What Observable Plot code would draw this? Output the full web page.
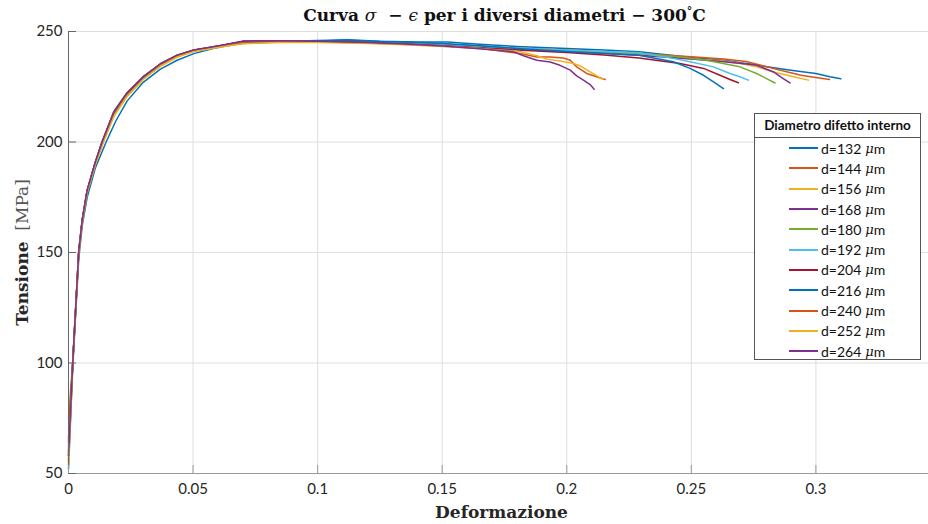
<!DOCTYPE html>
<html>
<head>
<meta charset="utf-8">
<script src="https://cdn.jsdelivr.net/npm/d3@7"></script>
<script src="https://cdn.jsdelivr.net/npm/@observablehq/plot@0.6"></script>
<style>
  body { margin: 0; background: #fff; }
  #chart { position: relative; width: 928px; height: 524px; }
  #legend {
    position: absolute; left: 754px; top: 113px; width: 167px; height: 247px;
    border: 1px solid #555; background: #fff; font-family: Lato, "Open Sans", sans-serif;
    color: #111; box-sizing: border-box;
  }
  #legend .head {
    height: 23px; line-height: 23px; text-align: center; font-weight: bold; font-size: 13.5px;
    border-bottom: 1px solid #555;
  }
  #legend .row { height: 20.3px; display: flex; align-items: center; font-size: 14px; padding-left: 34px; }
  #legend .row:first-of-type { margin-top: 1px; }
  #legend .sw { width: 29px; height: 2px; margin-right: 3px; }
  #legend .mu { font-family: "DejaVu Serif", serif; font-style: italic; font-size: 13px; margin-left: 4px; }
</style>
</head>
<body>
<div id="chart"></div>
<script>
// Diameters of the internal defect (µm) and the MATLAB line colours
const diameters = [132, 144, 156, 168, 180, 192, 204, 216, 240, 252, 264];
const colors = ["#0072BD", "#D95319", "#EDB120", "#7E2F8E", "#77AC30", "#4DBEEE",
                "#A2142F", "#0072BD", "#D95319", "#EDB120", "#7E2F8E"];

// Stress–strain curves at 300 °C: [strain, stress in MPa]
const d132 = [[0,52],[0.0017,98],[0.0041,147],[0.0055,162],[0.0075,175],[0.0107,188],[0.0151,200],[0.019,209.5],[0.0235,218.5],[0.03,227],[0.0369,233],[0.0436,237],[0.0503,240],[0.058,242.3],[0.066,244],[0.075,245.4],[0.088,245.8],[0.1,245.6],[0.112,246.3],[0.125,245.6],[0.14,245.2],[0.152,245.3],[0.165,244.2],[0.18,243.2],[0.2,242.3],[0.215,241.6],[0.229,240.8],[0.24,239.5],[0.25,238.2],[0.263,237],[0.276,234.8],[0.29,232.5],[0.3,231],[0.3056,229.5],[0.31,228.6]];
const d144 = [[0,56],[0.0017,100],[0.0041,150],[0.0055,164],[0.0075,177.5],[0.0107,190],[0.0137,200],[0.0182,212.5],[0.0235,221.5],[0.0302,229],[0.0369,234.7],[0.0436,238.8],[0.0503,241.3],[0.061,243.2],[0.07,244.8],[0.085,245.3],[0.1,245.6],[0.115,245.1],[0.13,244.8],[0.15,244.3],[0.165,243.4],[0.18,242.5],[0.2,241.6],[0.229,240],[0.25,238.6],[0.263,237.6],[0.272,236.4],[0.283,233.3],[0.294,230.2],[0.3,229.2],[0.3055,228.3]];
const d156 = [[0,55],[0.0017,99],[0.0041,149],[0.0055,163.5],[0.0075,177],[0.0107,189.5],[0.014,200],[0.0182,211.5],[0.0235,220.5],[0.0302,228.5],[0.0369,234.2],[0.0436,238.3],[0.0503,241],[0.061,243],[0.07,244.6],[0.085,245.2],[0.1,245.3],[0.115,245.4],[0.13,245],[0.15,244],[0.165,243.2],[0.18,242.3],[0.2,241.4],[0.229,239.6],[0.25,237.6],[0.262,236.8],[0.27,235.5],[0.277,233.8],[0.283,231.7],[0.291,229.5],[0.297,228]];
const d168 = [[0,60],[0.0017,100],[0.0041,150],[0.0055,164.6],[0.0075,178],[0.0107,190.5],[0.0135,200],[0.0182,213.5],[0.0235,222],[0.0302,229.5],[0.0369,235.2],[0.0436,239.2],[0.0503,241.5],[0.061,243.6],[0.0703,245.6],[0.085,245.8],[0.1,245.7],[0.12,245.1],[0.135,244.5],[0.15,243.7],[0.165,242.8],[0.18,241.9],[0.2,240.9],[0.229,239.3],[0.25,237.6],[0.263,236.3],[0.276,234.8],[0.283,231.7],[0.2869,228.7],[0.2896,226.7]];
const d180 = [[0,75],[0.0017,101],[0.0041,150.5],[0.0055,165],[0.0075,178.3],[0.0107,190.7],[0.0134,200],[0.0182,213.8],[0.0235,222.4],[0.0302,229.8],[0.0369,235.4],[0.0436,239.3],[0.0503,241.6],[0.061,243.7],[0.07,245.3],[0.085,245.6],[0.1,245.8],[0.115,245.3],[0.13,244.9],[0.15,244.2],[0.165,243.4],[0.18,242.4],[0.2,241.5],[0.229,240],[0.245,238.6],[0.256,237],[0.2695,234],[0.2762,231],[0.2802,228.7],[0.2836,226.7]];
const d192 = [[0,62],[0.0017,100],[0.0041,150],[0.0055,164.5],[0.0075,178],[0.0107,190.3],[0.0136,200],[0.0182,213.2],[0.0235,221.8],[0.0302,229.3],[0.0369,235],[0.0436,239],[0.0503,241.4],[0.061,243.5],[0.07,245.2],[0.085,245.6],[0.1,245.5],[0.115,245.2],[0.13,244.7],[0.15,244],[0.165,243.3],[0.18,242.5],[0.2,241.5],[0.229,240.4],[0.24,238.4],[0.2495,236.3],[0.2589,234],[0.2655,231],[0.2695,229.5],[0.2729,228]];
const d204 = [[0,64],[0.0017,100],[0.0041,150],[0.0055,164.6],[0.0075,178],[0.0107,190.5],[0.0135,200],[0.0182,213.4],[0.0235,222],[0.0302,229.6],[0.0369,235.3],[0.0436,239.2],[0.0503,241.5],[0.061,243.6],[0.07,245.5],[0.085,245.7],[0.1,245.5],[0.12,245],[0.135,244.3],[0.15,243.5],[0.165,242.5],[0.18,241.6],[0.2,240.5],[0.215,239.4],[0.229,238],[0.2455,235.5],[0.2549,233.3],[0.2615,230.2],[0.2655,228.3],[0.2689,226.8]];
const d216 = [[0,58],[0.0017,99.5],[0.0041,149.5],[0.0055,164],[0.0075,177.5],[0.0107,190],[0.0137,200],[0.0182,212.8],[0.0235,221.6],[0.0302,229.2],[0.0369,234.9],[0.0436,238.9],[0.0503,241.3],[0.061,243.4],[0.07,245],[0.085,245.5],[0.1,245.9],[0.11,246.2],[0.125,245.5],[0.14,245],[0.15,244.6],[0.165,243.6],[0.18,242.3],[0.2,241],[0.229,239.3],[0.2428,236.3],[0.2495,233.3],[0.2549,230.2],[0.2589,227.2],[0.2629,224.2]];
const d240 = [[0,66],[0.0017,100.5],[0.0041,150.3],[0.0055,164.7],[0.0075,178.1],[0.0107,190.6],[0.0135,200],[0.0182,213.4],[0.0235,222],[0.0302,229.6],[0.0369,235.2],[0.0436,239.1],[0.0503,241.5],[0.061,243.5],[0.07,245.2],[0.085,245.6],[0.1,245.4],[0.12,244.8],[0.135,244.1],[0.15,243.5],[0.165,242.4],[0.1813,240],[0.188,238.5],[0.1933,238.5],[0.1987,238],[0.2014,237],[0.204,234],[0.208,231],[0.212,229.5],[0.2154,228.3]];
const d252 = [[0,54],[0.0017,99],[0.0041,149.2],[0.0055,163.8],[0.0075,177.2],[0.0107,189.6],[0.014,200],[0.0182,211.8],[0.0235,220.8],[0.0302,228.6],[0.0369,234.4],[0.0436,238.5],[0.0503,241.1],[0.061,243.1],[0.07,244.5],[0.085,245],[0.1,245],[0.12,244.6],[0.135,244],[0.15,243.2],[0.165,242.3],[0.181,241],[0.188,239],[0.192,237.5],[0.1974,236.6],[0.2027,235.5],[0.2054,234.4],[0.2094,231.7],[0.2134,229],[0.2146,228.4]];
const d264 = [[0,58],[0.0017,100],[0.0041,150.2],[0.0055,164.6],[0.0075,178.2],[0.0107,190.6],[0.0135,200],[0.0182,213.6],[0.0235,222.2],[0.0302,229.7],[0.0369,235.4],[0.0436,239.3],[0.0503,241.6],[0.061,243.7],[0.0703,245.7],[0.085,245.8],[0.1,245.6],[0.12,245],[0.135,244.3],[0.15,243.4],[0.165,242.2],[0.1787,240.8],[0.1826,239],[0.188,237],[0.1933,236.2],[0.1973,234.7],[0.2014,232.5],[0.204,229.9],[0.2067,228],[0.2094,226],[0.211,223.9]];

const series = [d132, d144, d156, d168, d180, d192, d204, d216, d240, d252, d264];

// Ticks and texts
const xTicks = [0, 0.05, 0.1, 0.15, 0.2, 0.25, 0.3];
const yTicks = [50, 100, 150, 200, 250];
const titleParts = [
  {t: "Curva ", b: true}, {t: "σ", i: true}, {t: "  − ", b: true}, {t: "ϵ", i: true},
  {t: " per i diversi diametri − 300", b: true}, {t: "°", b: true, sup: true}, {t: "C", b: true}
];
const xLabel = "Deformazione";
const yLabelParts = [{t: "Tensione", b: true}, {t: "  [MPa]", b: false}];
const legendTitle = "Diametro difetto interno";

const titleText = titleParts.map(p => p.t).join("");
const yLabelText = yLabelParts.map(p => p.t).join("");

const labelOf = d => `d=${d}`;
const rows = series.flatMap((pts, k) => pts.map(([e, s]) => ({e, s, d: labelOf(diameters[k])})));

const serif = "'DejaVu Serif', 'Liberation Serif', serif";

const plot = Plot.plot({
  width: 928,
  height: 524,
  marginLeft: 68,
  marginRight: 0,
  marginTop: 31,
  marginBottom: 51,
  style: {fontFamily: "Lato, 'Open Sans', sans-serif", fontSize: "15px", color: "#262626", background: "#fff"},
  x: {domain: [0, 0.3452]},
  y: {domain: [50, 250]},
  color: {domain: diameters.map(labelOf), range: colors},
  marks: [
    Plot.gridX(xTicks, {stroke: "#dedede", strokeOpacity: 1}),
    Plot.gridY(yTicks, {stroke: "#dedede", strokeOpacity: 1}),
    Plot.line(rows, {x: "e", y: "s", z: "d", stroke: "d", strokeWidth: 1.5}),
    Plot.ruleY([50], {stroke: "#9a9a9a", strokeWidth: 1.2}),
    Plot.ruleX([0], {stroke: "#666", strokeWidth: 1}),
    Plot.axisX(xTicks, {
      tickSize: -8, tickPadding: 18, stroke: "#9a9a9a", label: null,
      tickFormat: d => String(Math.round(d * 100) / 100)
    }),
    Plot.axisY(yTicks, {tickSize: -8, tickPadding: 14, stroke: "#666", label: null}),
    Plot.text([xLabel], {
      frameAnchor: "bottom", dy: 39, dx: 3, fontFamily: serif, fontWeight: "bold",
      fontSize: 17, fill: "#262626", lineAnchor: "middle"
    }),
    Plot.text([yLabelText], {
      frameAnchor: "left", dx: -46, rotate: -90, fontFamily: serif, fontSize: 17,
      fill: "#262626", lineAnchor: "middle", textAnchor: "middle"
    }),
    Plot.text([titleText], {
      frameAnchor: "top", dy: -16, dx: 6, fontFamily: serif, fontSize: 17,
      fill: "#111", lineAnchor: "middle", textAnchor: "middle"
    })
  ]
});

// Rich text (bold words, italic math symbols) for the title and y label
function fillParts(full, parts) {
  const t = Array.from(plot.querySelectorAll("text")).find(el => el.textContent === full);
  if (!t) return;
  t.textContent = "";
  t.setAttribute("xml:space", "preserve");
  t.style.whiteSpace = "pre";
  for (const p of parts) {
    const ts = document.createElementNS("http://www.w3.org/2000/svg", "tspan");
    ts.textContent = p.t;
    ts.setAttribute("font-weight", p.b ? "bold" : "normal");
    if (p.i) ts.setAttribute("font-style", "italic");
    if (p.sup) { ts.setAttribute("baseline-shift", "super"); ts.setAttribute("font-size", "11"); }
    if (p.b === false) ts.setAttribute("fill", "#555");
    t.appendChild(ts);
  }
}
fillParts(titleText, titleParts);
fillParts(yLabelText, yLabelParts);

const chart = document.getElementById("chart");
chart.appendChild(plot);

// Legend box
const legend = d3.select(chart).append("div").attr("id", "legend");
legend.append("div").attr("class", "head").text(legendTitle);
diameters.forEach((d, k) => {
  const row = legend.append("div").attr("class", "row");
  row.append("span").attr("class", "sw").style("background", colors[k]);
  row.append("span").text(`d=${d}`);
  row.append("span").attr("class", "mu").text("μ");
  row.append("span").text("m");
});
</script>
</body>
</html>
